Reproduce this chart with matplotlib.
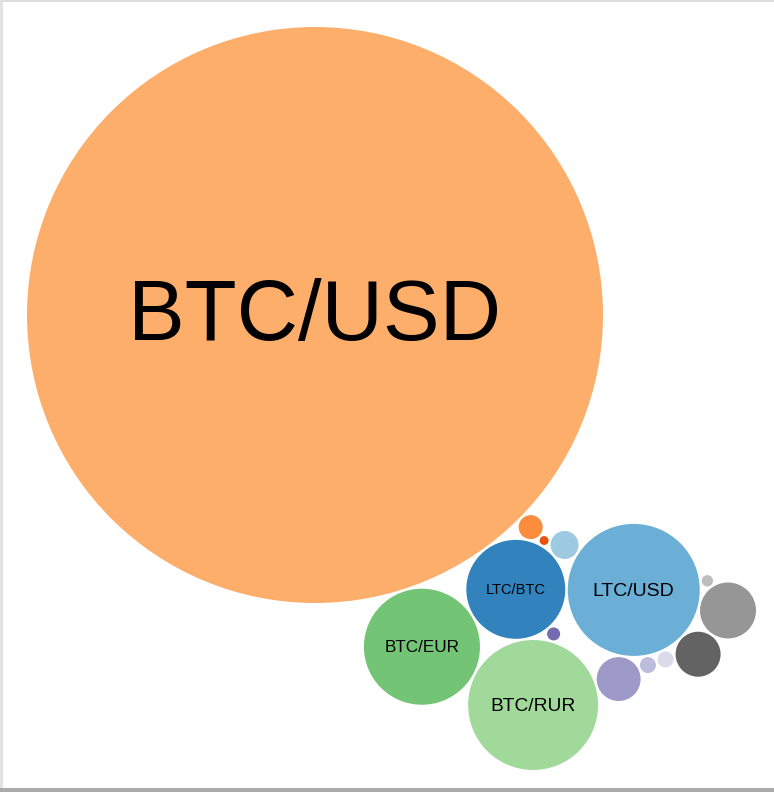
import numpy as np
import matplotlib
matplotlib.use('Agg')
import matplotlib.pyplot as plt
from matplotlib.patches import Circle, Rectangle

# pair names, volumes (relative) and colours (d3 category20c)
pairs = ['LTC/BTC', 'LTC/USD', 'LTC/RUR', 'NMC/BTC', 'NMC/USD', 'BTC/USD',
         'BTC/EUR', 'BTC/RUR', 'NVC/BTC', 'NVC/USD', 'USD/RUR', 'EUR/USD',
         'TRC/BTC', 'PPC/BTC', 'FTC/BTC']
volumes = [29.5, 52.5, 2.36, 0.24, 1.74, 1000.0,
           40.6, 50.9, 0.51, 5.8, 0.77, 0.77,
           6.1, 9.45, 0.39]
colors = ['#3182bd', '#6baed6', '#9ecae1', '#e6550d', '#fd8d3c', '#fdae6b',
          '#74c476', '#a1d99b', '#756bb1', '#9e9ac8', '#bcbddc', '#dadaeb',
          '#636363', '#969696', '#bdbdbd']

W, H = 774, 792
max_r = 288.0          # radius of the biggest bubble in px
gap = 2.5              # padding between bubbles
start_angle = np.deg2rad(53.8)
label_min_r = 40       # smaller bubbles get no label

idx = {p: i for i, p in enumerate(pairs)}
r = max_r * np.sqrt(np.array(volumes) / max(volumes))

# packing recipe: bubble, tangent to a and b, side of the line a->b
recipe = [
    ('BTC/EUR', 'BTC/USD', 'LTC/BTC', 1),
    ('NMC/USD', 'BTC/USD', 'LTC/BTC', -1),
    ('NMC/BTC', 'NMC/USD', 'LTC/BTC', -1),
    ('LTC/RUR', 'LTC/BTC', 'NMC/BTC', 1),
    ('LTC/USD', 'LTC/BTC', 'LTC/RUR', 1),
    ('BTC/RUR', 'BTC/EUR', 'LTC/BTC', 1),
    ('NVC/BTC', 'LTC/BTC', 'BTC/RUR', -1),
    ('NVC/USD', 'BTC/RUR', 'LTC/USD', 1),
    ('USD/RUR', 'NVC/USD', 'LTC/USD', 1),
    ('EUR/USD', 'USD/RUR', 'LTC/USD', 1),
    ('TRC/BTC', 'EUR/USD', 'LTC/USD', 1),
    ('PPC/BTC', 'TRC/BTC', 'LTC/USD', 1),
    ('FTC/BTC', 'PPC/BTC', 'LTC/USD', 1),
]

pos = {}
i0, i1 = idx['BTC/USD'], idx['LTC/BTC']
pos[i0] = np.array([0.0, 0.0])
pos[i1] = pos[i0] + (r[i0] + r[i1] + gap) * np.array([np.cos(start_angle), np.sin(start_angle)])

for name, na, nb, s in recipe:
    c, a, b = idx[name], idx[na], idx[nb]
    pa, pb = pos[a], pos[b]
    d = np.linalg.norm(pb - pa)
    u = (pb - pa) / d
    perp = np.array([-u[1], u[0]])
    ra = r[a] + r[c] + gap
    rb = r[b] + r[c] + gap
    x = (ra**2 - rb**2 + d**2) / (2 * d)
    h = np.sqrt(max(ra**2 - x**2, 0))
    pos[c] = pa + x * u + s * h * perp

xy = np.array([pos[i] for i in range(len(pairs))])
left = (xy[:, 0] - r).min()
top = (xy[:, 1] - r).min()

fig = plt.figure(figsize=(W / 100, H / 100), dpi=100)
ax = fig.add_axes([0, 0, 1, 1])
ax.set_xlim(left - 27, left - 27 + W)
ax.set_ylim(top - 27 + H, top - 27)
ax.axis('off')

for i, p in enumerate(pairs):
    ax.add_patch(Circle(xy[i], r[i], facecolor=colors[i], edgecolor='none'))
    if r[i] >= label_min_r:
        fs = 0.295 * r[i]
        ax.text(xy[i, 0], xy[i, 1] + 0.3 * fs, p, ha='center', va='baseline',
                fontsize=fs * 0.72, family='Liberation Sans', color='black')

# page frame
fig.add_artist(Rectangle((0, 1 - 2 / H), 1, 2 / H, transform=fig.transFigure,
                         facecolor='#dddddd', edgecolor='none'))
fig.add_artist(Rectangle((0, 0), 3 / W, 1, transform=fig.transFigure,
                         facecolor='#e2e2e2', edgecolor='none'))
fig.add_artist(Rectangle((0, 0), 1, 4 / H, transform=fig.transFigure,
                         facecolor='#ababab', edgecolor='none'))

fig.savefig('out.png', dpi=100)
